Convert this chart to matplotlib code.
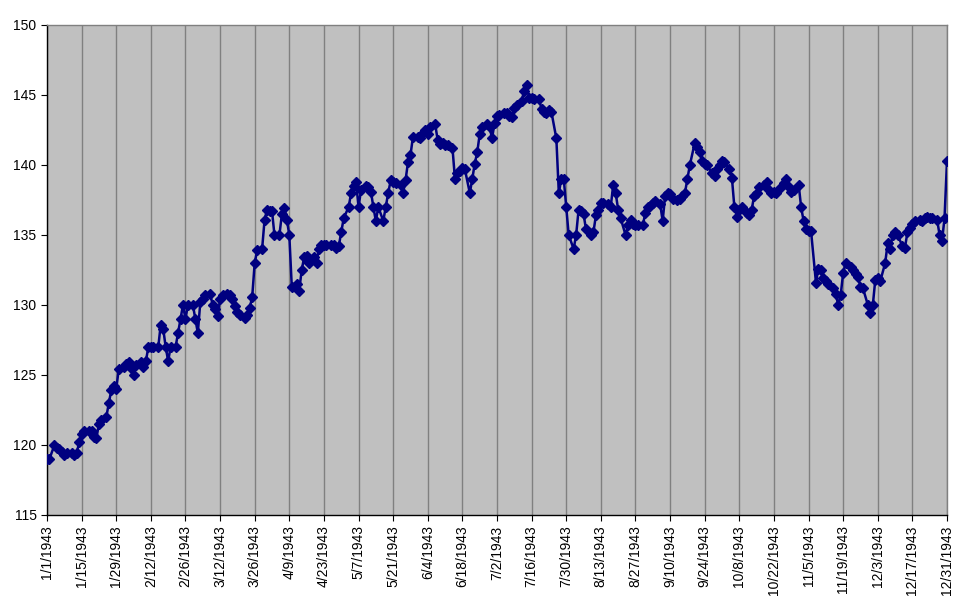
import numpy as np
import pandas as pd
import matplotlib
matplotlib.use("Agg")
import matplotlib.pyplot as plt
import matplotlib.dates as mdates
from matplotlib.ticker import FuncFormatter

# trading days of 1943 (Mon-Sat sessions)
dates = pd.bdate_range("1943-01-01", "1943-12-31", freq="C",
                       weekmask="Mon Tue Wed Thu Fri Sat")

# closing values, one row per week
values = [
    119.0, 119.0,
    120.0, 119.8, 119.7, 119.5, 119.3, 119.4,
    119.4, 119.3, 119.4, 120.2, 120.8, 121.0,
    121.0, 121.0, 120.6, 120.5, 121.5, 121.8,
    122.0, 123.0, 123.9, 124.2, 124.0, 125.4,
    125.6, 125.8, 125.9, 125.5, 125.0, 125.7,
    125.9, 125.6, 126.0, 127.0, 127.0, 127.0,
    127.0, 128.6, 128.3, 127.0, 126.0, 127.0,
    127.0, 128.0, 129.0, 130.0, 129.0, 130.0,
    130.0, 129.0, 128.0, 130.2, 130.4, 130.7,
    130.8, 130.0, 129.7, 129.2, 130.4, 130.7,
    130.8, 130.7, 130.4, 129.9, 129.5, 129.3,
    129.1, 129.3, 129.8, 130.6, 133.0, 133.9,
    134.0, 136.1, 136.8, 136.7, 136.7, 135.0,
    135.0, 136.5, 136.9, 136.1, 135.0, 131.3,
    131.5, 131.0, 132.5, 133.4, 133.5, 133.0,
    133.4, 133.0, 134.0, 134.3, 134.3, 134.3,
    134.3, 134.3, 134.1, 134.2, 135.2, 136.2,
    137.0, 138.0, 138.5, 138.8, 137.0, 138.2,
    138.5, 138.4, 138.1, 137.0, 136.0, 137.0,
    136.0, 137.0, 138.0, 138.9, 138.8, 138.7,
    138.6, 138.0, 138.9, 140.2, 140.7, 142.0,
    142.0, 141.9, 142.3, 142.5, 142.2, 142.7,
    142.9, 141.8, 141.5, 141.6, 141.4, 141.4,
    141.2, 139.0, 139.4, 139.6, 139.8, 139.7,
    138.0, 139.0, 140.1, 140.9, 142.2, 142.7,
    142.9, 142.7, 141.9, 143.0, 143.5, 143.6,
    143.7, 143.7, 143.5, 143.4, 144.1, 144.3,
    144.6, 145.3, 145.7, 144.8, 144.8, 144.7,
    144.7, 144.0, 143.8, 143.7, 143.9, 143.8,
    141.9, 138.0, 139.0, 139.0, 137.0, 135.0,
    134.0, 135.0, 136.8, 136.7, 136.5, 135.4,
    135.0, 135.2, 136.4, 136.8, 137.3, 137.3,
    137.2, 137.0, 138.6, 138.0, 136.8, 136.2,
    135.0, 135.7, 136.1, 135.8, 135.7, 135.7,
    135.7, 136.6, 137.0, 137.1, 137.3, 137.4,
    137.2, 136.0, 137.8, 138.0, 137.9, 137.6,
    137.5, 137.6, 137.8, 138.0, 139.0, 140.0,
    141.6, 141.3, 140.9, 140.3, 140.1, 140.0,
    139.4, 139.2, 139.7, 140.0, 140.3, 140.2,
    139.7, 139.1, 137.0, 136.3, 136.8, 137.0,
    136.6, 136.4, 136.8, 137.8, 138.0, 138.4,
    138.6, 138.8, 138.2, 138.0, 138.1, 138.0,
    138.4, 138.7, 139.0, 138.4, 138.1, 138.2,
    138.6, 137.0, 136.0, 135.4, 135.3, 135.3,
    131.6, 132.6, 132.5, 131.9, 131.7, 131.5,
    131.2, 130.8, 130.0, 130.7, 132.3, 133.0,
    132.7, 132.5, 132.2, 132.0, 131.3, 131.2,
    130.0, 129.4, 130.0, 131.8, 131.9, 131.7,
    133.0, 134.4, 134.0, 135.0, 135.2, 135.0,
    134.2, 134.1, 135.2, 135.5, 135.8, 136.0,
    136.1, 136.0, 136.2, 136.3, 136.2, 136.2,
    136.1, 135.0, 134.6, 136.2, 140.3,
]
assert len(values) == len(dates)

tick_dates = pd.date_range("1943-01-01", "1943-12-31", freq="14D")
y_ticks = [115, 120, 125, 130, 135, 140, 145, 150]

plt.rcParams["font.family"] = ["Liberation Sans", "DejaVu Sans"]

fig = plt.figure(figsize=(9.71, 6.05), dpi=100)
ax = fig.add_axes([47 / 971, 1 - 515 / 605, 900 / 971, 490 / 605])
ax.set_facecolor("#C0C0C0")

ax.plot(dates, values, color="#000080", lw=1.8, marker="D", ms=5.5,
        mec="#000080", mfc="#000080", zorder=3)

ax.set_xlim(pd.Timestamp("1943-01-01"), pd.Timestamp("1943-12-31"))
ax.set_ylim(115, 150)
ax.set_yticks(y_ticks)
ax.set_xticks(tick_dates)
ax.xaxis.set_major_formatter(
    FuncFormatter(lambda v, p: (lambda d: f"{d.month}/{d.day}/{d.year}")(mdates.num2date(v))))
ax.tick_params(axis="x", rotation=90, labelsize=10, length=4, direction="out")
ax.tick_params(axis="y", labelsize=10, length=4, direction="out")
ax.grid(axis="x", color="#808080", lw=1)
ax.set_axisbelow(True)
for s in ax.spines.values():
    s.set_color("black")
    s.set_linewidth(1)
ax.spines["right"].set_color("#808080")
ax.spines["top"].set_color("#808080")

fig.savefig("out.png", dpi=100)
